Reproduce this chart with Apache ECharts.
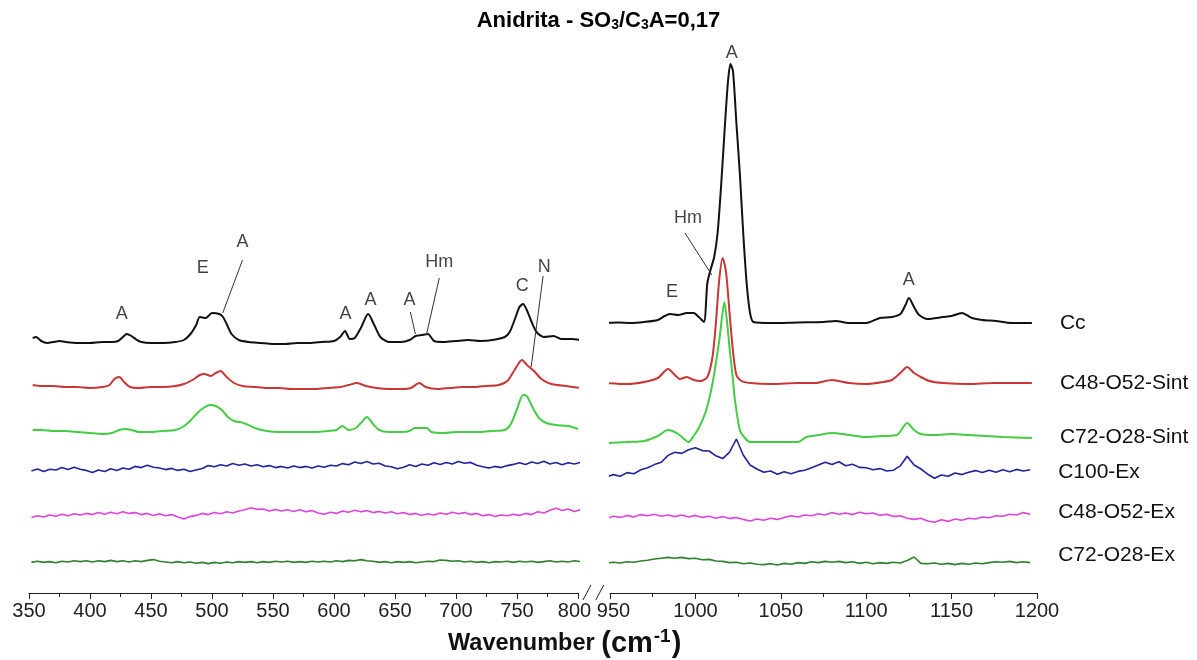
<!DOCTYPE html>
<html><head><meta charset="utf-8">
<script src="https://cdn.jsdelivr.net/npm/echarts@6/dist/echarts.min.js"></script>
<style>html,body{margin:0;padding:0;background:#fff}#c{width:1197px;height:660px}</style>
</head><body><div id="c"></div>
<script>
// ---------------- DATA ----------------
const seriesNames = ['Cc','C48-O52-Sint','C72-O28-Sint','C100-Ex','C48-O52-Ex','C72-O28-Ex'];
const seriesColors = ['#111111','#c93636','#45cc45','#23239a','#dc45dc','#2f7f2f'];
// vertical stacking offsets (a.u.) for each spectrum in each panel
const offsetsLeft  = [125.5, 103.5, 81, 62.5, 39, 15.5];
const offsetsRight = [135, 105, 76.5, 60, 38, 15];
const ticksLeft = [350, 800];   // axis range, step 50
const ticksRight = [950, 1200];

// Left panel (350-800 cm-1), [wavenumber, relative intensity]
const ccLeft = [[353,2],[356,2.5],[360,0.5],[365,-0.5],[370,0],[375,0.5],[380,0],[390,-0.5],[400,-0.5],[410,0],[418,0],[423,0.5],[427,2.5],[430,4],[434,3],[438,1.2],[442,0],[450,-0.5],[460,-0.5],[470,0],[477,1],[483,4.5],[487,8.5],[490,12.5],[495,12],[500,14.5],[506,14],[509,12.5],[512,9],[516,4],[522,1],[530,0],[540,-0.5],[550,-1],[560,-1],[570,-0.5],[580,-0.5],[590,0],[600,0.5],[605,2.5],[609,5.5],[613,1.5],[617,2],[622,7],[628,14],[633,8.5],[638,2.5],[645,0],[655,0],[662,1],[667,3],[672,3.5],[677,4],[682,0.5],[690,0],[700,0.5],[710,1],[720,0.5],[730,1],[740,2.5],[744,5],[748,11],[752,17.5],[755,19],[758,16],[762,10],[766,5],[772,2.5],[780,3],[786,1.5],[795,1.5],[802,1]];
const c48SintLeft = [[353,0.5],[360,0],[370,0],[380,-0.5],[390,-0.5],[400,-1],[410,-0.5],[416,0.5],[420,3.5],[424,4.5],[428,2],[433,-0.5],[440,-1],[450,-0.5],[460,-0.5],[470,0],[477,1],[484,3],[490,5.5],[494,6],[499,5],[503,6.5],[507,7.5],[512,4.5],[518,1.5],[525,0],[535,-0.5],[545,-1],[555,-1],[565,-1.5],[575,-1.5],[585,-1.5],[595,-1],[605,-0.5],[612,0.5],[619,1.5],[626,0],[635,-1],[645,-1.5],[655,-1.5],[663,-1],[670,1.5],[675,-0.5],[685,-1.5],[695,-1],[705,-0.5],[715,-0.5],[725,0],[735,0.5],[742,2.5],[748,8],[754,13],[759,10],[764,7.5],[770,3.5],[778,1],[790,0],[802,-1]];
const c72SintLeft = [[353,0.5],[360,0.5],[370,0],[380,0],[390,-0.5],[400,-1],[410,-1.5],[418,-1],[424,0.5],[429,1],[434,0.5],[440,-0.5],[450,-0.5],[460,0],[470,0.5],[476,2],[482,5],[488,9],[493,11.5],[498,13],[503,12.5],[508,10.5],[513,7],[518,5],[523,4.5],[528,3.5],[535,1.5],[545,0],[555,-0.5],[565,-0.5],[575,-0.5],[585,-0.5],[595,0],[602,0.5],[607,2.5],[612,0.5],[618,1.5],[622,4],[627,7],[632,3.5],[637,0.5],[645,-0.5],[655,-0.5],[662,0],[666,1.5],[671,1.5],[676,1.5],[680,-0.5],[690,-1],[700,-0.5],[710,-0.5],[720,-0.5],[730,0],[740,0.5],[745,3.5],[750,11],[755,18],[758,17.5],[763,11.5],[768,6.5],[774,4],[782,3],[792,2.5],[800,1]];
// noisy spectra on a regular grid: 352, 357, ... 802 cm-1
const gridLeftStart = 352, gridLeftStep = 5;
const c100ExLeft = [-1.5,-0.5,-1.8,-0.6,-1.0,0.2,-0.8,0.4,-0.6,-1.2,
 -2.2,-1.0,-1.8,-0.4,-1.2,0.0,-0.6,0.8,0.2,1.4,
 0.4,0.0,-0.8,-0.2,-1.2,-0.6,-1.8,-1.0,-0.2,1.2,
 0.6,1.6,1.0,2.2,1.4,2.0,1.0,1.6,0.6,1.2,
 0.2,0.8,0.0,1.0,0.2,0.8,0.0,1.0,0.4,1.4,
 1.0,2.2,1.6,3.0,2.2,3.2,2.0,2.4,1.0,0.6,
 -0.4,0.4,1.6,0.8,2.0,1.4,2.6,1.8,2.8,2.0,
 3.2,2.4,2.8,1.4,0.6,0.0,0.8,0.2,1.2,1.8,
 2.6,1.8,3.0,2.2,3.4,2.0,2.8,1.6,2.6,2.0,
 2.8];
const c48ExLeft = [-1.2,-0.4,-1.0,0.0,-0.6,0.4,-0.4,0.6,0.0,0.8,
 0.2,1.2,0.4,1.4,0.6,1.6,0.8,1.2,0.2,0.8,
 -0.2,0.6,-0.4,0.2,-1.0,-2.0,-0.8,-0.2,0.8,0.2,
 1.2,0.6,1.6,1.0,2.0,2.6,3.6,2.8,3.0,2.0,
 2.8,2.0,2.6,1.8,2.6,1.6,2.2,1.0,0.4,1.4,
 0.8,2.0,1.4,2.4,1.6,2.2,1.2,1.8,1.0,1.6,
 0.6,1.2,0.2,0.8,-0.2,0.6,0.0,1.0,0.4,1.4,
 0.6,1.2,0.2,0.8,-0.4,0.2,-0.8,0.0,-0.4,0.4,
 -0.2,0.8,0.2,1.6,1.0,2.4,3.4,2.2,3.0,1.8,
 2.6];
const c72ExLeft = [-0.2,0.4,-0.2,0.2,-0.4,0.4,0.0,0.6,0.2,0.6,
 0.0,0.6,0.2,0.8,0.2,0.6,0.0,0.6,0.2,0.8,
 1.2,0.4,0.0,-0.4,0.2,-0.4,0.0,-0.6,-0.2,-0.8,
 -0.2,-0.6,0.0,-0.4,0.2,-0.2,0.2,-0.4,0.2,-0.2,
 0.4,0.0,0.4,-0.2,0.2,-0.2,0.4,0.0,0.4,0.0,
 0.6,0.2,0.8,0.6,1.2,0.6,0.4,-0.2,0.2,-0.4,
 0.2,-0.2,0.2,-0.4,0.0,0.4,0.2,1.0,0.8,0.4,
 0.6,0.0,0.4,-0.2,0.2,-0.4,0.2,0.0,0.4,-0.2,
 0.4,0.0,0.4,-0.2,0.2,0.6,0.0,0.4,0.0,0.6,
 0.2];

// Right panel (950-1200 cm-1)
const ccRight = [[948,0],[955,0.3],[962,0],[970,0.5],[978,1.5],[982,3.5],[985,4.5],[990,4],[995,5],[999,5],[1002,3],[1005,0.5],[1007,20],[1009,27],[1011,33],[1013,45],[1015,68],[1017,95],[1019,120],[1020.5,129.5],[1022,126],[1024,100],[1026,75],[1028,45],[1030,20],[1032,5],[1034,0.5],[1045,0],[1060,0.3],[1075,0.5],[1082,1],[1090,0],[1100,0],[1108,2.5],[1115,3],[1120,4.5],[1123,9],[1125,12.5],[1128,8],[1131,4],[1136,2],[1145,3],[1150,3.5],[1156,5],[1162,2.5],[1168,1.5],[1176,1],[1185,0],[1197,0]];
const c48SintRight = [[948,0],[960,-0.5],[970,0.5],[978,2.5],[984,7],[988,4],[991,2],[995,3],[999,1.5],[1003,1],[1007,3],[1010,13],[1012,30],[1014,52],[1016,62.5],[1018,55],[1020,35],[1022,16],[1024,4],[1027,1],[1032,0],[1045,-0.5],[1060,0],[1070,0],[1080,1.5],[1090,0],[1100,-0.5],[1110,0.5],[1115,1.5],[1120,5],[1124,8],[1128,5],[1132,3],[1137,1],[1145,0],[1160,-0.5],[1175,0],[1197,0]];
const c72SintRight = [[948,-1.5],[960,-1],[970,-0.5],[978,2],[984,5],[990,3],[996,-1],[999,2],[1002,6],[1006,14],[1009,24],[1011,33],[1014,50],[1017,69],[1019,55],[1020,46],[1022,30],[1023,21],[1026,5],[1029,1],[1032,-1],[1045,-1],[1060,-1],[1065,1.5],[1072,2.5],[1080,3.5],[1090,2.5],[1100,1.5],[1110,2],[1118,2.5],[1124,8.5],[1128,5],[1132,3],[1140,2.5],[1150,3],[1160,2.5],[1170,2],[1180,1.5],[1197,1]];
// noisy spectra on a regular grid: 948, 952, ... 1196 cm-1
const gridRightStart = 948, gridRightStep = 4;
const c100ExRight = [-2.0,-0.8,-1.6,0.2,-0.4,1.6,2.6,4.2,5.4,8.8,
 10.4,9.8,11.6,12.6,11.2,11.0,8.6,7.2,10.4,17.0,
 9.0,4.0,2.0,0.4,1.0,-0.6,0.6,-0.4,0.8,1.4,
 2.6,4.0,5.4,4.2,5.6,3.6,4.4,2.8,2.6,1.6,
 2.2,1.0,1.4,3.6,8.4,4.0,2.0,-0.6,-2.6,-1.0,
 -1.6,0.0,-0.8,0.4,1.2,0.2,1.4,0.4,1.6,0.6,
 1.8,1.0,1.6];
const c48ExRight = [-0.6,0.4,-0.2,0.8,0.0,1.2,0.6,1.4,0.4,1.0,
 0.2,1.0,0.0,0.8,-0.2,0.4,-0.6,0.2,-0.8,-0.2,
 -1.2,-2.0,-1.0,-1.6,-0.6,-1.2,-0.2,0.6,0.0,1.0,
 0.6,1.6,1.0,2.2,1.4,2.0,1.2,2.4,1.6,2.0,
 0.8,1.4,0.2,0.6,-0.6,-1.2,-0.6,-2.0,-2.6,-1.4,
 -2.2,-1.0,-1.6,-0.6,-1.0,0.0,-0.4,0.6,0.4,1.4,
 1.0,2.2,1.4];
const c72ExRight = [0,0.4,0,0.6,0.4,1.0,1.4,2.0,2.4,2.8,
 2.4,2.8,2.2,2.4,1.6,1.8,1.0,0.8,0.2,0.4,
 -0.4,0.0,-0.6,-0.8,-0.4,-1.0,-0.2,-0.6,0.2,-0.2,
 0.6,0.2,0.8,0.4,0.8,0.2,0.6,-0.2,0.4,-0.4,
 0.2,-0.2,0.4,0.0,1.2,3.0,-0.2,-0.4,0.0,-0.6,
 -0.2,-0.8,-0.2,-0.6,0.0,-0.4,0.2,0.6,0.4,0.8,
 0.2,0.6,0.2];

// Peak assignments: [text, wavenumber, height]
const annLeft = [['A',426,139.5],['E',492.4,162.5],['A',525,175.5],['A',609.4,139.5],['A',630,146.5],['A',661.8,146.5],['Hm',686.3,165.5],['C',754.3,153.5],['N',772.3,163]];
const annRight = [['A',1021.3,270],['Hm',995.6,187.5],['E',986.3,150.5],['A',1124.9,156.5]];
// leader lines: [x1,y1,x2,y2]
const leadersLeft = [[525,166.5,508.8,140],[662.6,140.5,666.7,129.5],[686.3,157.5,675.7,129],[771.4,158.5,761.6,113]];
const leadersRight = [[993.9,180,1009.6,159]];
// label vertical nudges (px) for the series names at the right
const nameNudge = [0, 0, -1, 2, -2, -7];

// ---------------- CHART ----------------
const FONT = 'Liberation Sans';
function gridVals(vals, start, step) { return vals.map((v, i) => [start + i * step, v]); }
const leftData = [ccLeft, c48SintLeft, c72SintLeft,
  gridVals(c100ExLeft, gridLeftStart, gridLeftStep), gridVals(c48ExLeft, gridLeftStart, gridLeftStep), gridVals(c72ExLeft, gridLeftStart, gridLeftStep)];
const rightData = [ccRight, c48SintRight, c72SintRight,
  gridVals(c100ExRight, gridRightStart, gridRightStep), gridVals(c48ExRight, gridRightStart, gridRightStep), gridVals(c72ExRight, gridRightStart, gridRightStep)];

const chart = echarts.init(document.getElementById('c'), null, {renderer: 'canvas'});

const labelRich = {
  l: {fontSize: 20, color: '#222', fontFamily: FONT, padding: [0, 7, 0, 0]},
  r: {fontSize: 20, color: '#222', fontFamily: FONT, padding: [0, 0, 0, 7]}
};
function xAxisCfg(gi, range) {
  const min = range[0], max = range[1];
  return {
    gridIndex: gi, type: 'value', min: min, max: max, interval: 50,
    axisLine: {show: true, onZero: false, lineStyle: {color: '#222', width: 1}},
    axisTick: {show: true, length: 6, lineStyle: {color: '#222'}},
    minorTick: {show: true, splitNumber: 2, length: 4, lineStyle: {color: '#222'}},
    splitLine: {show: false}, minorSplitLine: {show: false},
    axisLabel: {fontSize: 20, color: '#222', fontFamily: FONT, margin: 8, rich: labelRich,
      formatter: function (v) {
        if (gi === 0 && v === max) return '{l|' + v + '}';
        if (gi === 1 && v === min) return '{r|' + v + '}';
        return String(v);
      }}
  };
}
function yAxisCfg(gi) { return {gridIndex: gi, type: 'value', min: 0, max: 280, show: false}; }

const series = [];
seriesNames.forEach((name, i) => {
  const w = i < 3 ? 2 : 1.6;
  series.push({
    name: name, type: 'line', xAxisIndex: 0, yAxisIndex: 0, clip: false,
    data: leftData[i].map(p => [p[0], p[1] + offsetsLeft[i]]),
    showSymbol: false, smooth: i < 3 ? 0.25 : false,
    lineStyle: {color: seriesColors[i], width: w}, itemStyle: {color: seriesColors[i]},
    silent: true, animation: false
  });
  series.push({
    name: name, type: 'line', xAxisIndex: 1, yAxisIndex: 1, clip: false,
    data: rightData[i].map(p => [p[0], p[1] + offsetsRight[i]]),
    showSymbol: false, smooth: i < 3 ? 0.25 : false,
    lineStyle: {color: seriesColors[i], width: w}, itemStyle: {color: seriesColors[i]},
    endLabel: {show: true, formatter: name, distance: 28, color: '#111', fontSize: 21, fontFamily: FONT, offset: [0, nameNudge[i]]},
    silent: true, animation: false
  });
});

function annSeries(ann, leaders, gi) {
  return {
    type: 'scatter', xAxisIndex: gi, yAxisIndex: gi, clip: false, silent: true, animation: false,
    symbolSize: 1, itemStyle: {color: 'rgba(0,0,0,0)'},
    data: ann.map(a => ({name: a[0], value: [a[1], a[2]]})),
    label: {show: true, position: 'inside', formatter: '{b}', fontSize: 18, color: '#111', fontFamily: FONT},
    markLine: {
      silent: true, symbol: ['none', 'none'], animation: false,
      lineStyle: {color: '#333', width: 1, type: 'solid'}, label: {show: false},
      data: leaders.map(l => [{coord: [l[0], l[1]]}, {coord: [l[2], l[3]]}])
    }
  };
}
series.push(annSeries(annLeft, leadersLeft, 0));
series.push(annSeries(annRight, leadersRight, 1));

chart.setOption({
  backgroundColor: '#fff',
  animation: false,
  title: [
    {text: '{b|Anidrita - SO}{s|3}{b|/C}{s|3}{b|A=0,17}', left: 'center', top: 5,
     textStyle: {rich: {
       b: {fontSize: 22, fontWeight: 'bold', fontFamily: FONT, color: '#000'},
       s: {fontSize: 14, fontWeight: 'bold', fontFamily: FONT, color: '#000', padding: [8, 0, 0, 0]}
     }}},
    {text: '{b|Wavenumber }{p|(cm}{sup|-1}{p|)}', left: 443, top: 622,
     textStyle: {rich: {
       b: {fontSize: 23.5, fontWeight: 'bold', fontFamily: FONT, color: '#111'},
       p: {fontSize: 29, fontWeight: 'bold', fontFamily: FONT, color: '#111'},
       sup: {fontSize: 19, fontWeight: 'bold', fontFamily: FONT, color: '#111', padding: [0, 1, 14, 1]}
     }}}
  ],
  grid: [
    {left: 29, width: 549, top: 33, bottom: 67},
    {left: 610, width: 427, top: 33, bottom: 67}
  ],
  xAxis: [xAxisCfg(0, ticksLeft), xAxisCfg(1, ticksRight)],
  yAxis: [yAxisCfg(0), yAxisCfg(1)],
  series: series
});

// axis break marks between 800 and 950
const pA = chart.convertToPixel({xAxisIndex: 0, yAxisIndex: 0}, [800, 0]);
const pB = chart.convertToPixel({xAxisIndex: 1, yAxisIndex: 1}, [950, 0]);
const gap = pB[0] - pA[0];
const cx1 = pA[0] + gap * 0.28, cx2 = pA[0] + gap * 0.68;
chart.setOption({graphic: [
  {type: 'line', shape: {x1: cx1 - 4, y1: pA[1] + 7, x2: cx1 + 4, y2: pA[1] - 8}, style: {stroke: '#222', lineWidth: 1}, silent: true},
  {type: 'line', shape: {x1: cx2 - 4, y1: pA[1] + 7, x2: cx2 + 4, y2: pA[1] - 8}, style: {stroke: '#222', lineWidth: 1}, silent: true}
]});
</script></body></html>
